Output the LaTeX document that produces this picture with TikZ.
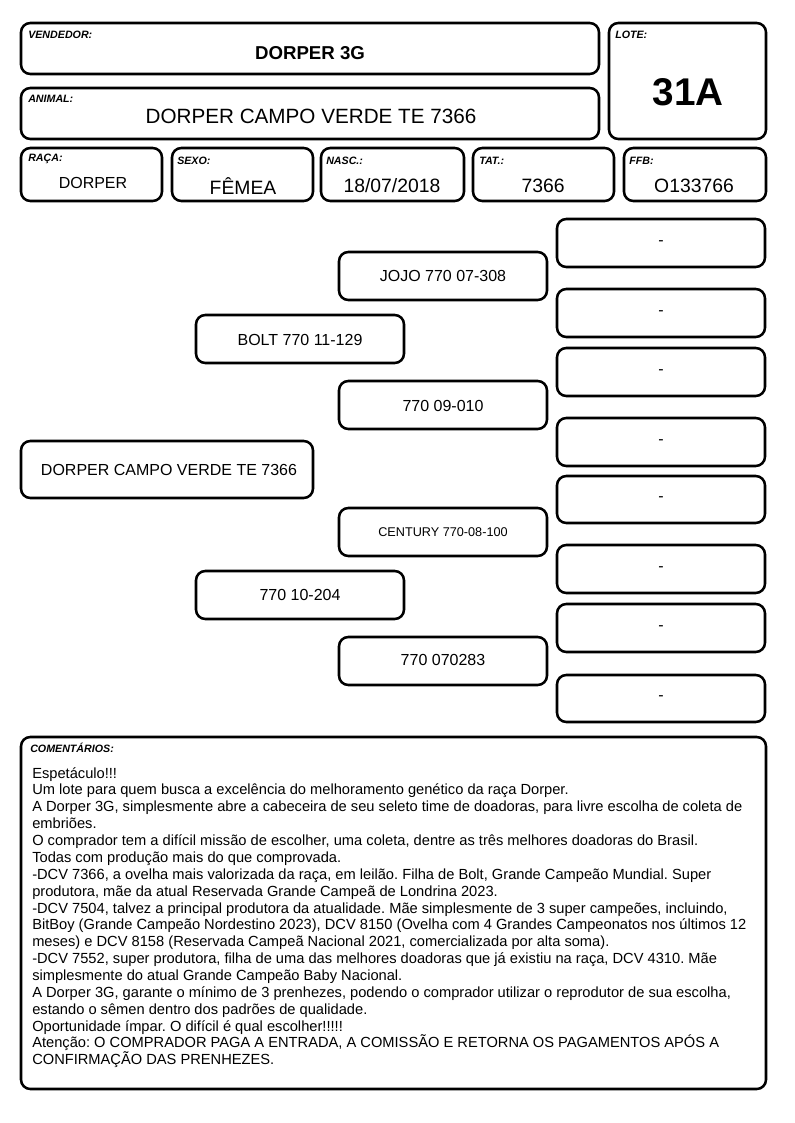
\documentclass[tikz,border=0pt]{standalone}
\usepackage{fontspec}
\setmainfont{Liberation Sans}
\usetikzlibrary{fit}
\begin{document}
\frenchspacing
\begin{tikzpicture}[x=0.75pt,y=-0.75pt,
  box/.style={draw, line width=1.9pt, rounded corners=7pt, inner sep=0pt},
  lab/.style={font=\fontsize{8}{9.5}\selectfont\bfseries\itshape, anchor=west, inner sep=0pt},
  val/.style={font=\fontsize{14.5}{17}\selectfont, inner sep=0pt},
  ped/.style={font=\fontsize{12}{14}\selectfont, inner sep=0pt},
  small/.style={font=\fontsize{9.5}{11}\selectfont, inner sep=0pt}]
\useasboundingbox (0,0) rectangle (794,1123);
% header boxes
\node[box, fit={(21,23) (599,74)}] (vend) {};
\node[box, fit={(21,88) (599,139)}] (anim) {};
\node[box, fit={(609,23) (766,139)}] (lote) {};
\node[box, fit={(21,148) (162,201)}] (raca) {};
\node[box, fit={(172,148) (313,201)}] (sexo) {};
\node[box, fit={(321,148) (464,201)}] (nasc) {};
\node[box, fit={(473,148) (614,201)}] (tat) {};
\node[box, fit={(624,148) (766,201)}] (ffb) {};
\node[lab] (lvend) at (28,35) {VENDEDOR:};
\node[lab] (lanim) at (28,99) {ANIMAL:};
\node[lab] (llote) at (615,35) {LOTE:};
\node[lab] (lraca) at (28,159) {RAÇA:};
\node[lab] (lsexo) at (177,161) {SEXO:};
\node[lab] (lnasc) at (326,161) {NASC.:};
\node[lab] (ltat) at (479,161) {TAT.:};
\node[lab] (lffb) at (629,161) {FFB:};
\node[inner sep=0pt, font=\fontsize{14}{16}\selectfont\bfseries] (tvend) at (310,53) {DORPER 3G};
\node[inner sep=0pt, font=\fontsize{15.5}{18}\selectfont] (tanim) at (311,116) {DORPER CAMPO VERDE TE 7366};
\node[inner sep=0pt, font=\fontsize{29}{33}\selectfont\bfseries] (tlote) at (688,92) {31A};
\node[inner sep=0pt, font=\fontsize{12}{14}\selectfont] (traca) at (93,183) {DORPER};
\node[val] (tsexo) at (243,186) {FÊMEA};
\node[val] (tnasc) at (392,186) {18/07/2018};
\node[val] (ttat) at (543,186) {7366};
\node[val] (tffb) at (694,186) {O133766};
% pedigree
\node[box, fit={(21,441) (313,498)}] (subj) {};
\node[inner sep=0pt, font=\fontsize{12}{14}\selectfont] (tsubj) at (169,470) {DORPER CAMPO VERDE TE 7366};
\node[box, fit={(196,315) (404,363)}] (sire) {};
\node[ped] (tsire) at (300,340) {BOLT 770 11-129};
\node[box, fit={(196,571) (404,619)}] (dam) {};
\node[ped] (tdam) at (300,595) {770 10-204};
\node[box, fit={(339,252) (547,300)}] (ss) {};
\node[ped] (tss) at (443,276) {JOJO 770 07-308};
\node[box, fit={(339,381) (547,429)}] (sd) {};
\node[ped] (tsd) at (443,406) {770 09-010};
\node[box, fit={(339,508) (547,556)}] (ds) {};
\node[small] (tds) at (443,532) {CENTURY 770-08-100};
\node[box, fit={(339,637) (547,685)}] (dd) {};
\node[ped] (tdd) at (443,660) {770 070283};
\foreach \i/\t/\b in {1/219/267, 2/289/337, 3/348/396, 4/418/466, 5/476/523, 6/545/593, 7/604/652, 8/675/722}{
  \node[box, fit={(557,\t) (765,\b)}] (g\i) {};
  \node[ped] (tg\i) at (g\i.center) {-};
}
% comments
\node[box, fit={(21,737) (766,1089)}] (com) {};
\node[lab] (lcom) at (30,748) {COMENTÁRIOS:};
\node[inner sep=0pt, anchor=north west, align=left, font=\fontsize{11}{12.65}\selectfont] (tcom) at (32,767) {Espetáculo!!!\\
Um lote para quem busca a excelência do melhoramento genético da raça Dorper.\\
A Dorper 3G, simplesmente abre a cabeceira de seu seleto time de doadoras, para livre escolha de coleta de\\
embriões.\\
O comprador tem a difícil missão de escolher, uma coleta, dentre as três melhores doadoras do Brasil.\\
Todas com produção mais do que comprovada.\\
-DCV 7366, a ovelha mais valorizada da raça, em leilão. Filha de Bolt, Grande Campeão Mundial. Super\\
produtora, mãe da atual Reservada Grande Campeã de Londrina 2023.\\
-DCV 7504, talvez a principal produtora da atualidade. Mãe simplesmente de 3 super campeões, incluindo,\\
BitBoy (Grande Campeão Nordestino 2023), DCV 8150 (Ovelha com 4 Grandes Campeonatos nos últimos 12\\
meses) e DCV 8158 (Reservada Campeã Nacional 2021, comercializada por alta soma).\\
-DCV 7552, super produtora, filha de uma das melhores doadoras que já existiu na raça, DCV 4310. Mãe\\
simplesmente do atual Grande Campeão Baby Nacional.\\
A Dorper 3G, garante o mínimo de 3 prenhezes, podendo o comprador utilizar o reprodutor de sua escolha,\\
estando o sêmen dentro dos padrões de qualidade.\\
Oportunidade ímpar. O difícil é qual escolher!!!!!\\
Atenção: O COMPRADOR PAGA A ENTRADA, A COMISSÃO E RETORNA OS PAGAMENTOS APÓS A\\
CONFIRMAÇÃO DAS PRENHEZES.};
\end{tikzpicture}
\end{document}
